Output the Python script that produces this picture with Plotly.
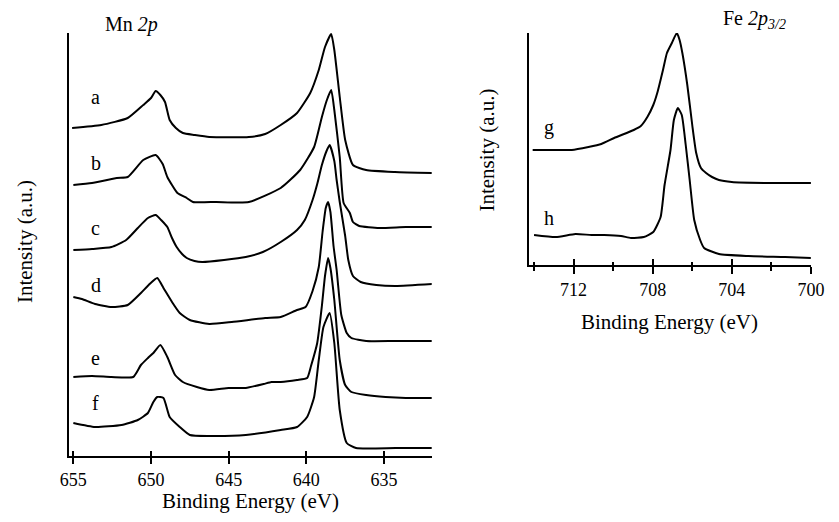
import plotly.graph_objects as go

# ---------------- Mn 2p spectra (binding energy eV, intensity a.u.) ----------------
mn_e_a = [655.08, 653.2, 651.5, 650.5, 650.0, 649.7, 649.4, 649.1, 648.8, 648.4, 647.95, 647.2, 646.25, 643.7, 642.65, 641.65, 640.6, 639.75, 639.2, 638.8, 638.4, 638.2, 637.85, 637.5, 637.0, 636.15, 634.3, 631.9]
mn_a   = [328, 331, 338, 351, 358, 365, 361, 354, 336, 328, 323, 321, 319, 319, 322, 331, 343, 363, 386, 409, 422, 406, 359, 316, 291, 286, 284, 283]

mn_e_b = [655.0, 653.8, 652.2, 651.5, 650.5, 649.7, 649.25, 648.95, 648.3, 647.7, 647.3, 645.8, 643.7, 641.65, 640.4, 639.5, 639.0, 638.7, 638.4, 638.2, 637.85, 637.6, 637.2, 637.0, 636.6, 635.3, 633.6, 631.9]
mn_b   = [271, 273, 278, 279, 296, 301, 292, 279, 263, 258, 254, 254, 254, 268, 286, 309, 339, 355, 366, 346, 299, 253, 243, 234, 230, 228, 229, 229]

mn_e_c = [655.0, 653.8, 652.55, 651.6, 650.85, 650.2, 649.7, 649.35, 648.95, 648.65, 648.35, 648.0, 647.7, 647.2, 646.7, 645.3, 643.9, 642.8, 641.65, 640.6, 640.1, 639.6, 639.3, 639.0, 638.7, 638.5, 638.2, 638.05, 637.85, 637.5, 637.3, 637.0, 636.5, 635.5, 634.25, 631.9]
mn_c   = [206, 207, 209, 216, 228, 238, 241, 236, 229, 218, 209, 202, 198, 195, 194, 196, 199, 204, 214, 226, 236, 256, 272, 291, 305, 311, 295, 276, 254, 220, 196, 180, 174, 171, 170, 172]

mn_e_d = [655.0, 654.45, 653.6, 652.55, 651.5, 650.65, 650.15, 649.6, 649.2, 648.65, 648.15, 647.5, 646.25, 644.8, 642.65, 641.65, 640.6, 640.05, 639.6, 639.2, 638.95, 638.75, 638.6, 638.45, 638.25, 638.05, 637.75, 637.4, 637.1, 636.15, 634.25, 631.9]
mn_d   = [159, 157, 152, 149, 151, 163, 171, 178, 168, 154, 143, 136, 132, 134, 138, 139, 146, 149, 165, 189, 225, 248, 254, 244, 210, 186, 141, 123, 118, 115, 115, 115]

mn_e_e = [655.0, 653.8, 652.55, 651.15, 650.65, 650.2, 649.85, 649.4, 648.95, 648.45, 647.95, 647.05, 646.25, 645.0, 643.9, 642.75, 642.25, 641.65, 640.6, 639.95, 639.7, 639.3, 639.0, 638.8, 638.6, 638.45, 638.2, 637.85, 637.5, 637.1, 636.15, 634.9, 633.6, 631.9]
mn_e   = [79, 80, 79, 79, 91, 98, 103, 111, 99, 81, 74, 69, 66, 68, 68, 72, 74, 74, 76, 78, 90, 113, 150, 180, 198, 188, 156, 96, 71, 64, 61, 59, 58, 58]

mn_e_f = [655.0, 653.6, 651.9, 650.85, 650.2, 649.85, 649.6, 649.2, 648.8, 648.15, 647.5, 646.25, 643.9, 641.65, 640.6, 639.95, 639.5, 639.2, 638.9, 638.5, 638.2, 637.85, 637.4, 636.8, 634.25, 631.9]
mn_f   = [33, 29, 31, 36, 43, 54, 59, 58, 39, 29, 21, 20, 21, 26, 29, 39, 59, 96, 129, 143, 113, 46, 13, 8, 8, 8]

mn_labels = ["a", "b", "c", "d", "e", "f"]
mn_ticks = [655, 650, 645, 640, 635]

# ---------------- Fe 2p3/2 spectra ----------------
fe_e_g = [714.07, 713.08, 712.09, 711.25, 710.6, 709.95, 708.96, 708.6, 708.27, 707.97, 707.77, 707.48, 707.28, 707.03, 706.78, 706.64, 706.5, 706.25, 706.0, 705.8, 705.56, 705.3, 705.0, 704.65, 704.0, 702.2, 699.98]
fe_g   = [115, 115, 115, 118, 121, 127, 135, 139, 148, 160, 172, 195, 212, 222, 232, 225, 212, 180, 140, 112, 97, 92, 88, 85, 83, 82, 82]

fe_e_h = [714.0, 712.9, 711.9, 711.1, 710.45, 709.6, 709.1, 708.45, 707.97, 707.6, 707.4, 707.1, 706.93, 706.73, 706.53, 706.33, 706.13, 705.9, 705.6, 705.4, 704.65, 703.16, 701.3, 700.0]
fe_h   = [30, 28, 31, 30, 30, 29, 27, 28, 33, 48, 80, 115, 145, 157, 150, 120, 85, 45, 25, 17, 11, 9, 8, 7]

fe_labels = ["g", "h"]
fe_major_ticks = [712, 708, 704, 700]
fe_minor_ticks = [714, 710, 706, 702]

FONT = "Liberation Serif"
W, H = 839, 522

fig = go.Figure()
line = dict(color="black", width=2, shape="spline", smoothing=0.5)
for xs, ys in [(mn_e_a, mn_a), (mn_e_b, mn_b), (mn_e_c, mn_c), (mn_e_d, mn_d), (mn_e_e, mn_e), (mn_e_f, mn_f)]:
    fig.add_trace(go.Scatter(x=xs, y=ys, mode="lines", line=line, xaxis="x", yaxis="y", showlegend=False, hoverinfo="skip"))
for xs, ys in [(fe_e_g, fe_g), (fe_e_h, fe_h)]:
    fig.add_trace(go.Scatter(x=xs, y=ys, mode="lines", line=line, xaxis="x2", yaxis="y2", showlegend=False, hoverinfo="skip"))
# invisible traces so the overlay axes (inner tick halves) are drawn
fig.add_trace(go.Scatter(x=[None], y=[None], mode="lines", xaxis="x3", yaxis="y", showlegend=False, hoverinfo="skip"))
fig.add_trace(go.Scatter(x=[None], y=[None], mode="lines", xaxis="x4", yaxis="y2", showlegend=False, hoverinfo="skip"))

def px_x(p):
    # small horizontal correction measured for the capture
    return ((p - 5.6) / 0.9926) / W

def px_y(p):
    return 1 - p / H

left_dom = [px_x(67), px_x(437)]
left_ydom = [px_y(456), px_y(33)]
right_dom = [px_x(536), px_x(824)]
right_ydom = [px_y(265), px_y(33)]

common_x = dict(showgrid=False, zeroline=False, showline=True, linecolor="black", linewidth=2,
                ticks="outside", tickcolor="black", tickwidth=2,
                tickfont=dict(family=FONT, size=18, color="black"))
common_y = dict(showgrid=False, zeroline=False, showline=True, linecolor="black", linewidth=2,
                ticks="", showticklabels=False)

fig.update_layout(
    width=W, height=H, autosize=False, margin=dict(l=0, r=0, t=0, b=0),
    paper_bgcolor="white", plot_bgcolor="white", showlegend=False,
    font=dict(family=FONT, color="black"),
    xaxis=dict(domain=left_dom, range=[655.27, 631.93], tickvals=mn_ticks, ticklen=6, anchor="y", **common_x),
    yaxis=dict(domain=left_ydom, range=[0, 423], anchor="x", **common_y),
    xaxis3=dict(overlaying="x", range=[655.27, 631.93], tickvals=mn_ticks, ticks="inside", ticklen=5,
                tickwidth=2, tickcolor="black", showticklabels=False, showline=False, showgrid=False,
                zeroline=False, anchor="y"),
    xaxis2=dict(domain=right_dom, range=[714.27, 700], tickvals=fe_major_ticks, ticklen=7, anchor="y2",
                minor=dict(tickvals=fe_minor_ticks, ticks="outside", ticklen=4, tickwidth=2, tickcolor="black"),
                **common_x),
    yaxis2=dict(domain=right_ydom, range=[0, 232], anchor="x2", **common_y),
    xaxis4=dict(overlaying="x2", range=[714.27, 700], tickvals=fe_major_ticks, ticks="inside", ticklen=6,
                tickwidth=2, tickcolor="black", showticklabels=False, showline=False, showgrid=False,
                zeroline=False, anchor="y2",
                minor=dict(tickvals=fe_minor_ticks, ticks="inside", ticklen=3, tickwidth=2, tickcolor="black")),
)

ann = []
def text(x, y, s, size=20, angle=0, xanchor="center"):
    ann.append(dict(x=px_x(x), y=px_y(y), xref="paper", yref="paper", text=s, showarrow=False,
                    font=dict(family=FONT, size=size, color="black"), textangle=angle,
                    xanchor=xanchor, yanchor="middle"))

for lab, yy in zip(mn_labels, [97, 163, 228, 285, 358, 403]):
    text(94, yy, lab)
for lab, yy in zip(fe_labels, [127, 218]):
    text(557, yy, lab)
text(102, 25, "Mn <i>2p</i>", size=20, xanchor="left")
text(732, 20, "Fe <i>2p</i><sub><i>3/2</i></sub>", size=20, xanchor="left")
text(22, 242, "Intensity (a.u.)", size=21, angle=-90)
text(493, 150, "Intensity (a.u.)", size=21, angle=-90)
text(252, 501, "Binding Energy (eV)", size=21)
text(680, 322, "Binding Energy (eV)", size=21)
fig.update_layout(annotations=ann)

post = ("document.documentElement.style.margin='0';document.documentElement.style.overflow='hidden';"
        "document.body.style.margin='0';document.body.style.overflow='hidden';")
fig.write_html("out.html", config={"displayModeBar": False}, post_script=post)
